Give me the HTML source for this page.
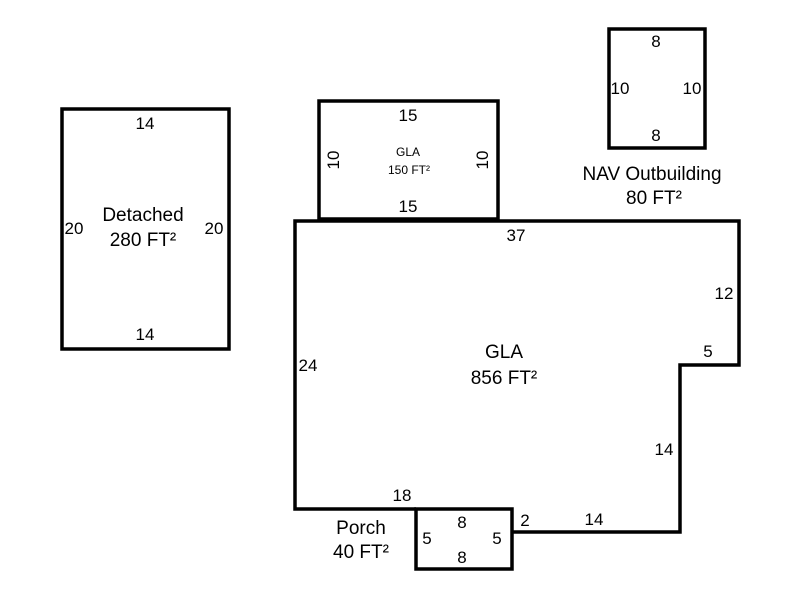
<!DOCTYPE html>
<html><head><style>
body{margin:0;background:#fff;}
svg text{font-family:"Liberation Sans",Arial,sans-serif;font-size:17px;fill:#000;}
svg text.t{font-size:19px;}
</style></head><body>
<svg width="800" height="600" viewBox="0 0 800 600" xmlns="http://www.w3.org/2000/svg">
<g fill="none" stroke="#000" stroke-width="3.5">
<rect x="62" y="109" width="167" height="240"/>
<rect x="319" y="101" width="179" height="118"/>
<rect x="609" y="29" width="96" height="119"/>
<polyline points="416,509 295,509 295,221 739,221 739,365 680,365 680,532 512,532"/>
<rect x="416" y="509" width="96" height="60"/>
</g>
<g text-anchor="middle">
<text x="145" y="129">14</text>
<text x="145" y="340">14</text>
<text x="74" y="234">20</text>
<text x="214" y="234">20</text>
<text class="t" x="143" y="221">Detached</text>
<text class="t" x="143" y="246">280 FT²</text>
<text x="408" y="121">15</text>
<text x="408" y="212">15</text>
<text x="408" y="156" style="font-size:12px">GLA</text>
<text x="409" y="174" style="font-size:12px">150 FT²</text>
<text transform="translate(339,160) rotate(-90)">10</text>
<text transform="translate(488,160) rotate(-90)">10</text>
<text x="656" y="47">8</text>
<text x="656" y="141">8</text>
<text x="620" y="94">10</text>
<text x="692" y="94">10</text>
<text class="t" x="652" y="180">NAV Outbuilding</text>
<text class="t" x="654" y="204">80 FT²</text>
<text x="516" y="241">37</text>
<text x="724" y="299">12</text>
<text x="708" y="357">5</text>
<text x="664" y="455">14</text>
<text x="594" y="525">14</text>
<text x="525" y="526">2</text>
<text x="308" y="371">24</text>
<text x="402" y="501">18</text>
<text class="t" x="504" y="358">GLA</text>
<text class="t" x="504" y="384">856 FT²</text>
<text class="t" x="361" y="534">Porch</text>
<text class="t" x="361" y="558">40 FT²</text>
<text x="462" y="528">8</text>
<text x="462" y="563">8</text>
<text x="427" y="544">5</text>
<text x="497" y="544">5</text>
</g>
</svg>
</body></html>
